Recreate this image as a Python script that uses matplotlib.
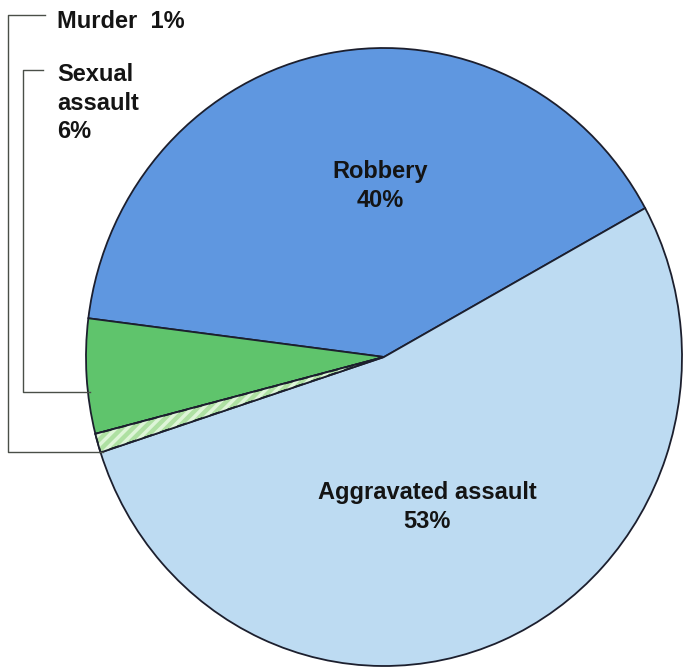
import matplotlib
matplotlib.use("Agg")
import matplotlib.pyplot as plt
from matplotlib.patches import Wedge

# Data
categories = ["Robbery", "Sexual assault", "Murder", "Aggravated assault"]
values = [40, 6, 1, 53]
label_texts = ["Robbery\n40%", "Sexual\nassault\n6%", "Murder  1%", "Aggravated assault\n53%"]

colors = ["#5f97e0", "#5fc46c", "#aee0a2", "#bddbf2"]

W, H = 688, 667
fig = plt.figure(figsize=(W / 100, H / 100), dpi=100)
fig.patch.set_facecolor("white")

# pie axes (pixel geometry)
cx, cy, a, b = 384, 357, 298, 309
ax = fig.add_axes([(cx - a) / W, (H - cy - b) / H, 2 * a / W, 2 * b / H])
wedges, _ = ax.pie(values, colors=colors, startangle=28.8, counterclock=True,
                   radius=1.0, center=(0, 0),
                   wedgeprops=dict(edgecolor="#1c1f2e", linewidth=1.3))
ax.set_xlim(-1, 1)
ax.set_ylim(-1, 1)
ax.set_aspect("auto")
ax.axis("off")

# hatch for the murder wedge
plt.rcParams["hatch.linewidth"] = 2.5
w = wedges[2]
hw = Wedge((0, 0), 1.0, w.theta1, w.theta2, facecolor="none",
           edgecolor="#def5d8", hatch="///", linewidth=0)
ax.add_patch(hw)
ov = Wedge((0, 0), 1.0, w.theta1, w.theta2, facecolor="none",
           edgecolor="#1c1f2e", linewidth=1.3)
ax.add_patch(ov)

# overlay axes in pixel coords for labels & leader lines
ov_ax = fig.add_axes([0, 0, 1, 1], facecolor="none")
ov_ax.set_xlim(0, W)
ov_ax.set_ylim(H, 0)
ov_ax.axis("off")

lc = "#4a4f48"
# Murder leader
ov_ax.plot([45, 8, 8, 103], [15, 15, 452, 452], color=lc, lw=1.0)
# Sexual assault leader
ov_ax.plot([43, 23, 23, 90], [70, 70, 392, 392], color=lc, lw=1.0)

font = dict(family=["Liberation Sans", "DejaVu Sans"], fontweight="bold", color="#141414")
fs = 17
ov_ax.text(57, 21, label_texts[2], fontsize=fs, ha="left", va="center", **font)
ov_ax.text(57, 103, label_texts[1], fontsize=fs, ha="left", va="center",
           linespacing=1.3, **font)
ov_ax.text(380, 186, label_texts[0], fontsize=fs, ha="center", va="center",
           linespacing=1.35, **font)
ov_ax.text(427, 507, label_texts[3], fontsize=fs, ha="center", va="center",
           linespacing=1.35, **font)

fig.savefig("out.png", dpi=100, facecolor="white")
